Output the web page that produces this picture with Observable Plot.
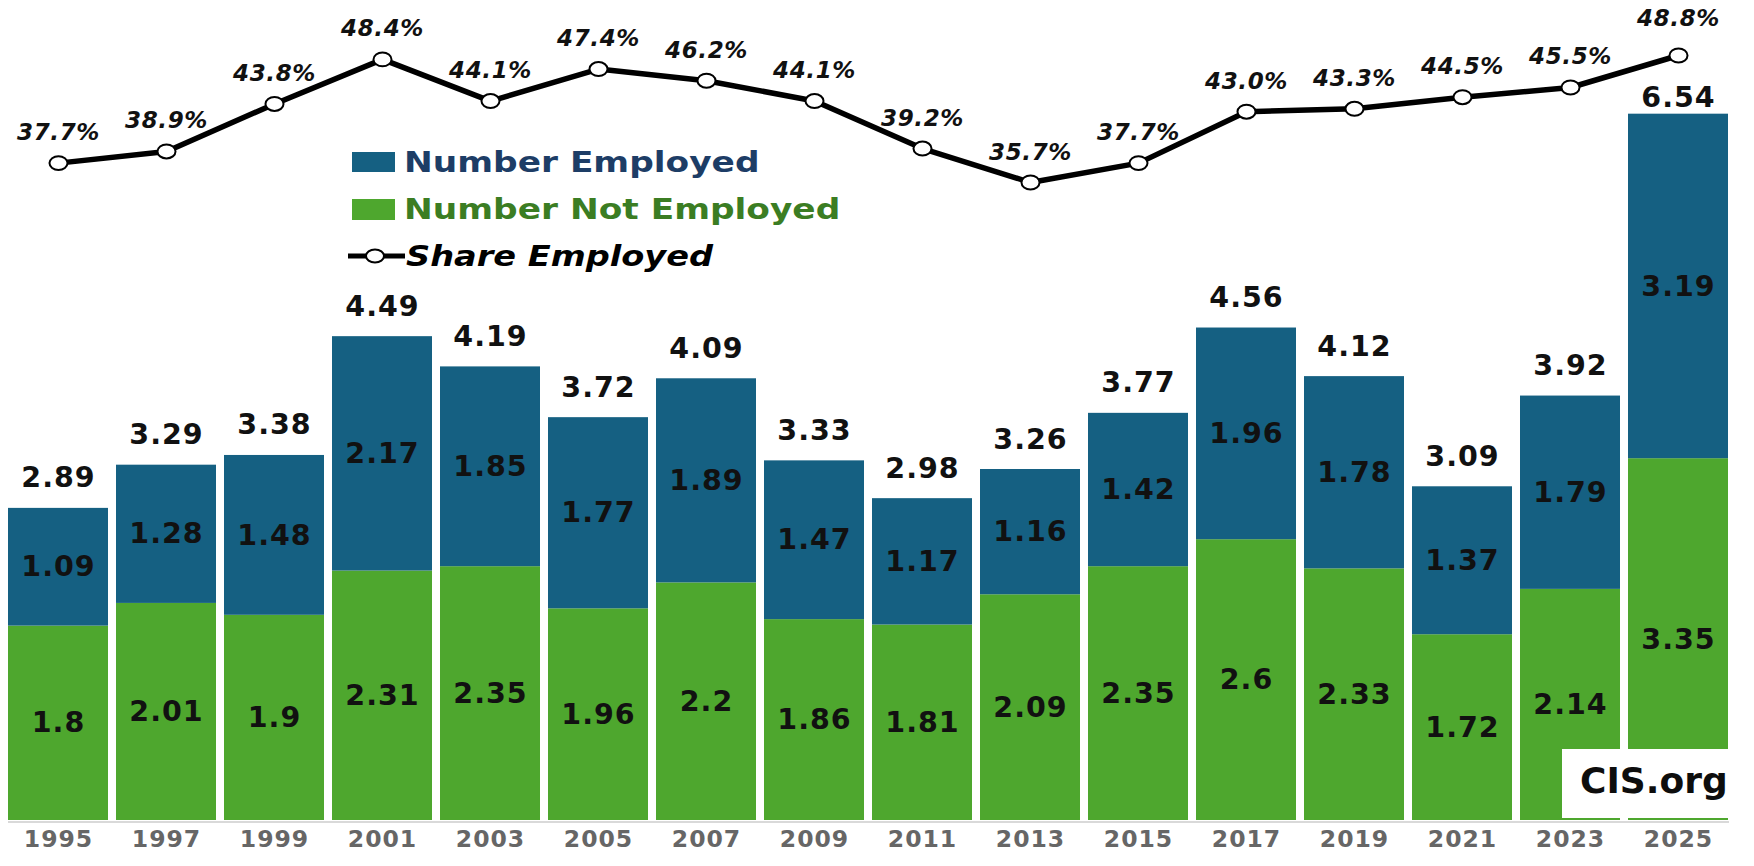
<!DOCTYPE html>
<html><head><meta charset="utf-8">
<script src="https://cdn.jsdelivr.net/npm/d3@7"></script>
<script src="https://cdn.jsdelivr.net/npm/@observablehq/plot@0.6"></script>
<style>
body{margin:0;background:#fff;}
#wrap{position:relative;width:1754px;height:866px;overflow:hidden;background:#fff;}
#wrap svg{position:absolute;left:0;top:0;}
</style></head><body><div id="wrap"></div>
<script>
// ---- data ----
const years = [1995, 1997, 1999, 2001, 2003, 2005, 2007, 2009, 2011, 2013, 2015, 2017, 2019, 2021, 2023, 2025];
const notEmployed = [1.8, 2.01, 1.9, 2.31, 2.35, 1.96, 2.2, 1.86, 1.81, 2.09, 2.35, 2.6, 2.33, 1.72, 2.14, 3.35];
const employed = [1.09, 1.28, 1.48, 2.17, 1.85, 1.77, 1.89, 1.47, 1.17, 1.16, 1.42, 1.96, 1.78, 1.37, 1.79, 3.19];
const totals = [2.89, 3.29, 3.38, 4.49, 4.19, 3.72, 4.09, 3.33, 2.98, 3.26, 3.77, 4.56, 4.12, 3.09, 3.92, 6.54];
const share = [37.7, 38.9, 43.8, 48.4, 44.1, 47.4, 46.2, 44.1, 39.2, 35.7, 37.7, 43.0, 43.3, 44.5, 45.5, 48.8];
const seriesNames = ["Number Not Employed", "Number Employed"];
const seriesColors = ["#4EA72E", "#156082"];
const legendLabels = ["Number Employed", "Number Not Employed", "Share Employed"];
const sourceLabel = "CIS.org";

// ---- derived tables ----
const stackRows = [
  ...years.map((y, i) => ({year: y, series: seriesNames[0], value: notEmployed[i]})),
  ...years.map((y, i) => ({year: y, series: seriesNames[1], value: employed[i]}))
];
const totalRows = years.map((y, i) => ({year: y, total: totals[i], top: notEmployed[i] + employed[i]}));
const shareRows = years.map((y, i) => ({year: y, share: share[i]}));
const lastYear = years[years.length - 1];

const W = 1754, H = 866, ML = 8, MR = 25;
const font = "'DejaVu Sans', Verdana, sans-serif";
const xOpts = {type: "band", domain: years, paddingInner: 0.074, paddingOuter: 0, axis: null};

const ellipse = {
  draw(ctx, size) {
    const r = Math.sqrt(size / Math.PI), rx = r * 1.1, ry = r * 0.85, k = 0.5523;
    ctx.moveTo(rx, 0);
    ctx.bezierCurveTo(rx, ry * k, rx * k, ry, 0, ry);
    ctx.bezierCurveTo(-rx * k, ry, -rx, ry * k, -rx, 0);
    ctx.bezierCurveTo(-rx, -ry * k, -rx * k, -ry, 0, -ry);
    ctx.bezierCurveTo(rx * k, -ry, rx, -ry * k, rx, 0);
    ctx.closePath();
  }
};

const bars = Plot.plot({
  width: W, height: H, marginLeft: ML, marginRight: MR, marginTop: 10, marginBottom: 46,
  x: xOpts,
  y: {domain: [0, 7.5], axis: null},
  color: {domain: seriesNames, range: seriesColors},
  style: {fontFamily: font, background: "white", overflow: "visible", letterSpacing: "1px"},
  marks: [
    Plot.ruleY([0], {stroke: "#d9d9d9", strokeWidth: 2, dy: 1.5}),
    Plot.barY(stackRows, Plot.stackY({x: "year", y: "value", z: "series", fill: "series", order: seriesNames})),
    Plot.text(stackRows, Plot.stackY({x: "year", y: "value", z: "series", order: seriesNames,
      text: d => String(d.value), fontSize: 28.5, fontWeight: "bold", fill: "#111"})),
    Plot.text(totalRows, {x: "year", y: "top", text: d => d.total.toFixed(2), filter: d => d.year !== lastYear,
      lineAnchor: "bottom", dy: -21, fontSize: 28.5, fontWeight: "bold", fill: "#111"}),
    Plot.text(totalRows, {x: "year", y: "top", text: d => d.total.toFixed(2), filter: d => d.year === lastYear,
      lineAnchor: "bottom", dy: -7, fontSize: 28.5, fontWeight: "bold", fill: "#111"}),
    Plot.text(years, {x: d => d, text: d => String(d), frameAnchor: "bottom", lineAnchor: "bottom", dy: 26,
      fontSize: 23.5, fontWeight: "bold", fill: "#666"})
  ]
});

const line = Plot.plot({
  width: W, height: H, marginLeft: ML, marginRight: MR, marginTop: 55, marginBottom: 684,
  x: xOpts,
  y: {domain: [35.7, 48.8], axis: null},
  style: {fontFamily: font, background: "transparent", overflow: "visible", letterSpacing: "0.6px"},
  marks: [
    Plot.line(shareRows, {x: "year", y: "share", stroke: "#000", strokeWidth: 5.5, strokeLinejoin: "round"}),
    Plot.dot(shareRows, {x: "year", y: "share", r: 8.2, symbol: ellipse, fill: "white", stroke: "#000", strokeWidth: 2}),
    Plot.text(shareRows, {x: "year", y: "share", text: d => d.share.toFixed(1) + "%", filter: d => d.year !== lastYear,
      lineAnchor: "bottom", dy: -23, fontSize: 23, fontWeight: "bold", fontStyle: "italic", fill: "#111"}),
    Plot.text(shareRows, {x: "year", y: "share", text: d => d.share.toFixed(1) + "%", filter: d => d.year === lastYear,
      lineAnchor: "bottom", dy: -30, fontSize: 23, fontWeight: "bold", fontStyle: "italic", fill: "#111"})
  ]
});

const wrap = document.getElementById("wrap");
wrap.appendChild(bars);
wrap.appendChild(line);

// ---- legend & source box overlay ----
const ov = d3.create("svg").attr("width", W).attr("height", H).style("font-family", font);
ov.append("rect").attr("x", 352).attr("y", 152).attr("width", 43).attr("height", 20).attr("fill", seriesColors[1]);
ov.append("text").attr("transform", "translate(404,172) scale(1.228,1)").attr("font-size", 28)
  .attr("font-weight", "bold").attr("fill", "#1D3D66").text(legendLabels[0]);
ov.append("rect").attr("x", 352).attr("y", 199).attr("width", 43).attr("height", 21).attr("fill", seriesColors[0]);
ov.append("text").attr("transform", "translate(404,219) scale(1.228,1)").attr("font-size", 28)
  .attr("font-weight", "bold").attr("fill", "#3B7D23").text(legendLabels[1]);
ov.append("line").attr("x1", 348).attr("x2", 405).attr("y1", 256).attr("y2", 256).attr("stroke", "#000").attr("stroke-width", 5);
ov.append("ellipse").attr("cx", 375).attr("cy", 256).attr("rx", 9).attr("ry", 6.5).attr("fill", "#fff").attr("stroke", "#000").attr("stroke-width", 2);
ov.append("text").attr("transform", "translate(406,266) scale(1.2,1)").attr("font-size", 28)
  .attr("font-weight", "bold").attr("font-style", "italic").attr("fill", "#000").text(legendLabels[2]);
ov.append("rect").attr("x", 1562).attr("y", 749).attr("width", 169).attr("height", 69).attr("fill", "#fff");
ov.append("text").attr("x", 1580).attr("y", 793).attr("font-size", 36).attr("font-weight", "bold").attr("fill", "#0d0d0d").text(sourceLabel);
wrap.appendChild(ov.node());
</script></body></html>
